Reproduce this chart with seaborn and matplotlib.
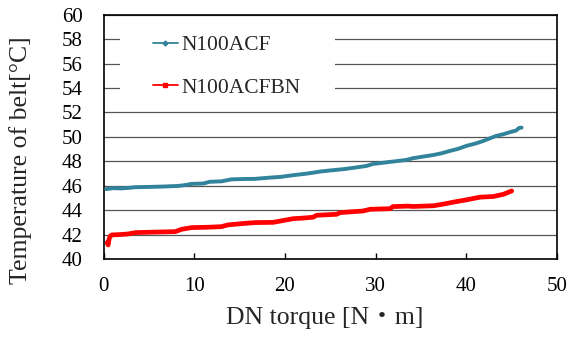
import matplotlib
matplotlib.use("Agg")
import matplotlib.pyplot as plt
from matplotlib.lines import Line2D
from matplotlib.patches import Rectangle
import seaborn as sns
import pandas as pd

# ---- data ----
acf_torque = [0.3, 1.0, 2.0, 3.0, 3.5, 5.0, 6.5, 8.2, 9.0, 9.7, 11.0, 11.7, 13.0, 14.1,
              15.5, 16.7, 18.3, 19.5, 20.9, 22.5, 23.9, 25.0, 26.4, 27.9, 29.0, 29.7,
              31.6, 33.4, 34.1, 35.2, 36.4, 37.3, 38.2, 39.1, 40.0, 41.0, 41.9, 42.6,
              43.3, 44.1, 44.8, 45.5, 45.8, 46.1]
acf_temp = [45.72, 45.80, 45.78, 45.84, 45.88, 45.90, 45.93, 45.98, 46.05, 46.15, 46.18,
            46.32, 46.36, 46.52, 46.55, 46.56, 46.66, 46.72, 46.86, 47.00, 47.16, 47.25,
            47.35, 47.50, 47.62, 47.78, 47.95, 48.11, 48.25, 48.38, 48.52, 48.66, 48.85,
            49.02, 49.26, 49.45, 49.67, 49.88, 50.08, 50.22, 50.38, 50.52, 50.72, 50.76]

bn_torque = [0.4, 0.5, 0.6, 0.7, 0.9, 1.8, 2.7, 3.5, 5.5, 7.9, 8.6, 9.7, 11.5, 13.0,
             13.7, 15.6, 16.7, 18.7, 20.9, 22.0, 23.1, 23.5, 25.7, 26.1, 28.6, 29.4,
             31.6, 31.9, 33.6, 34.1, 36.4, 37.5, 38.9, 40.0, 41.5, 43.0, 44.1, 44.6, 45.0]
bn_temp = [41.35, 41.15, 41.60, 41.85, 41.97, 42.00, 42.05, 42.16, 42.20, 42.24, 42.43,
           42.57, 42.60, 42.65, 42.79, 42.92, 42.98, 43.00, 43.30, 43.35, 43.42, 43.58,
           43.66, 43.80, 43.93, 44.07, 44.12, 44.29, 44.33, 44.30, 44.36, 44.50, 44.70,
           44.84, 45.06, 45.12, 45.30, 45.45, 45.57]

series_names = ["N100ACF", "N100ACFBN"]
x_ticks = [0, 10, 20, 30, 40, 50]
y_ticks = [40, 42, 44, 46, 48, 50, 52, 54, 56, 58, 60]

df = pd.concat([
    pd.DataFrame({"torque": acf_torque, "temp": acf_temp, "series": series_names[0]}),
    pd.DataFrame({"torque": bn_torque, "temp": bn_temp, "series": series_names[1]}),
], ignore_index=True)

colors = {"N100ACF": "#31849B", "N100ACFBN": "#FF0000"}
markers = {"N100ACF": "D", "N100ACFBN": "s"}

sns.set_style("ticks")
plt.rcParams["font.family"] = ["Liberation Serif", "Noto Sans CJK JP"]

fig = plt.figure(figsize=(5.71, 3.39), dpi=100)
ax = fig.add_axes([0.1814, 0.236, 0.9755 - 0.1814, 0.9566 - 0.236])

for name in series_names:
    sub = df[df["series"] == name]
    sns.lineplot(data=sub, x="torque", y="temp", color=colors[name],
                 linewidth=3.4 if name == "N100ACFBN" else 2.8,
                 estimator=None, sort=True, ax=ax, legend=False, zorder=3)

ax.set_xlim(0, 50)
ax.set_ylim(40, 60)
ax.set_xticks(x_ticks)
ax.set_yticks(y_ticks)
ax.grid(axis="y", color="#555555", linewidth=0.9)
ax.set_axisbelow(True)
for sp in ax.spines.values():
    sp.set_color("black")
    sp.set_linewidth(1.2)
    sp.set_visible(True)

ax.tick_params(axis="both", direction="in", length=4, width=1, labelsize=15,
               colors="black")
ax.tick_params(axis="y", pad=15, length=0)
ax.tick_params(axis="x", pad=13)

ax.set_xlabel("DN torque [N・m]", fontsize=18.5, va="center", ha="center")
ax.set_ylabel("Temperature of belt[°C]", fontsize=18.5, va="center", ha="center")
ax.xaxis.set_label_coords(0.487, -0.241)
ax.yaxis.set_label_coords(-0.184, 0.405)

# white legend background covering the grid
ax.add_patch(Rectangle((0.036, 0.63), 0.475, 0.36, transform=ax.transAxes,
                       facecolor="white", edgecolor="none", zorder=1.5))

handles = [Line2D([], [], color=colors[n], lw=1.3, marker=markers[n], markersize=2.5)
           for n in series_names]
ax.legend(handles, series_names, loc="center left", bbox_to_anchor=(0.109, 0.788),
          frameon=False, fontsize=15.5, handlelength=1.15, handletextpad=0.15,
          labelspacing=1.05, borderpad=0, borderaxespad=0)

fig.savefig("out.png", dpi=100)
